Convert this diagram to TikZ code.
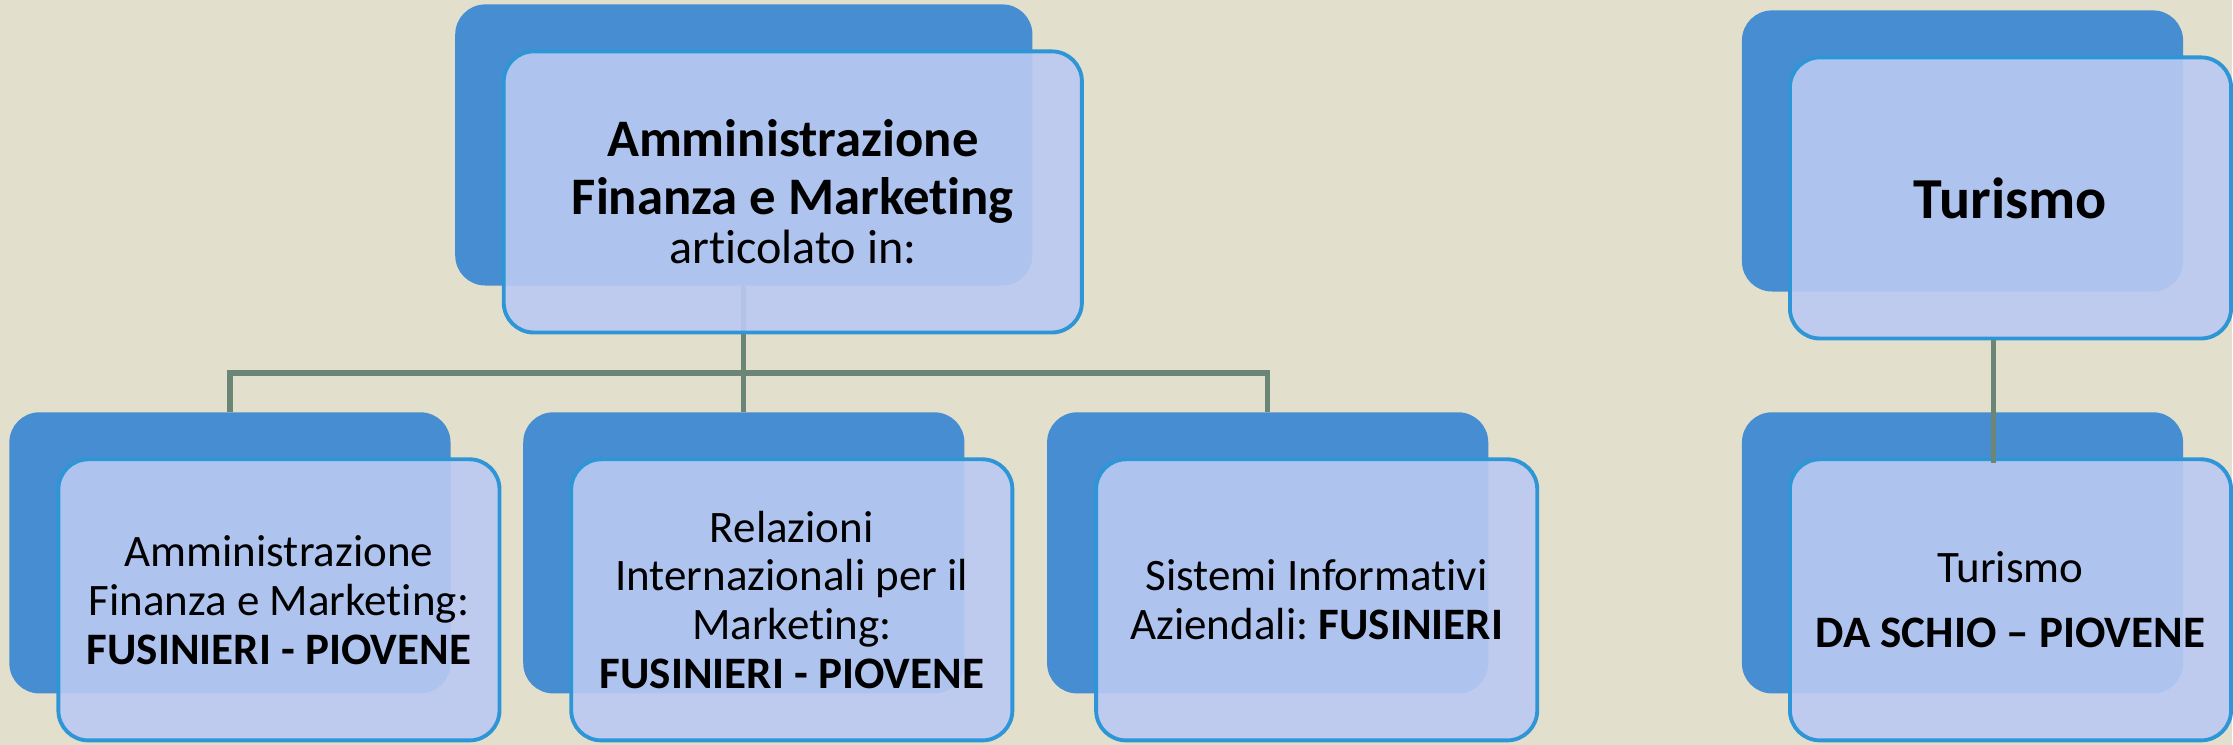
\documentclass[tikz,border=0pt]{standalone}
\usepackage{fontspec}
\setmainfont{Carlito}[Ligatures={TeX,NoCommon}]
\definecolor{bgbeige}{RGB}{226,223,204}
\definecolor{backblue}{RGB}{70,142,209}
\definecolor{frontblue}{RGB}{187,201,243}
\definecolor{edgeblue}{RGB}{46,150,214}
\definecolor{linkgreen}{RGB}{107,133,118}
\frenchspacing
\begin{document}
\begin{tikzpicture}[x=0.01cm,y=0.01cm]
\tikzstyle{box}=[rectangle, rounded corners=0.3cm, minimum width=4.41cm, minimum height=2.81cm, inner sep=0pt]
\tikzstyle{back}=[box, fill=backblue]
\tikzstyle{front}=[box, draw=edgeblue, line width=1.1pt, fill=frontblue, fill opacity=0.9, text opacity=1, align=center, font=\fontsize{12.8}{13.9}\selectfont]
\tikzstyle{link}=[draw=linkgreen, line width=1.5pt]
\fill[bgbeige] (0,0) rectangle (2233,745);
\draw (744,600) node (afmB) [back, minimum width=5.77cm] {};
\draw (230,192) node (aziB) [back] {};
\draw (744,192) node (rimB) [back] {};
\draw (1268,192) node (siaB) [back] {};
\draw (1963,594) node (turB) [back] {};
\draw (1963,192) node (turiB) [back] {};
\coordinate (split) at (744,372);
\draw[link] (afmB.south) -- (split);
\draw[link] (aziB.north) |- (split) -| (siaB.north);
\draw[link] (split) -- (rimB.north);
\draw (793,553) node (afm) [front, minimum width=5.78cm, font=\fontsize{15}{16.5}\selectfont] {\textbf{Amministrazione}\\\textbf{Finanza e Marketing}\\[-2.6pt]{\fontsize{13.7}{15}\selectfont articolato in:}};
\draw (279,145) node (azi) [front] {Amministrazione\\Finanza e Marketing:\\\textbf{FUSINIERI - PIOVENE}};
\draw (792,145) node (rim) [front] {Relazioni\\Internazionali per il\\Marketing:\\\textbf{FUSINIERI - PIOVENE}};
\draw (1317,145) node (sia) [front] {Sistemi Informativi\\Aziendali: \textbf{FUSINIERI}};
\draw (2011,547) node (tur) [front, font=\fontsize{16.5}{18}\selectfont\bfseries] {Turismo};
\draw (2011,145) node (turi) [front] {Turismo\\[4.6pt]\textbf{DA SCHIO – PIOVENE}};
\draw[link] ([xshift=-0.17cm]tur.south) -- ([xshift=-0.17cm,yshift=-0.06cm]turi.north);
\end{tikzpicture}
\end{document}
